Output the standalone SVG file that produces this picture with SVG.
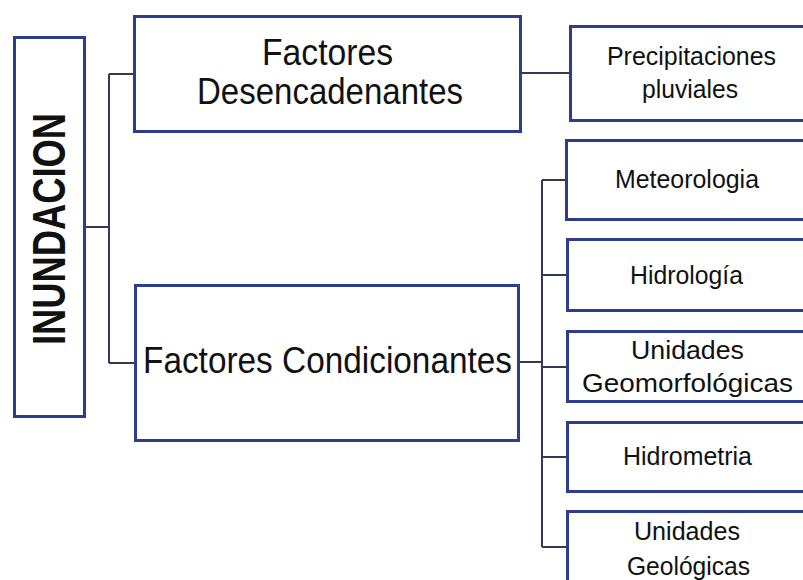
<svg xmlns="http://www.w3.org/2000/svg" width="803" height="580" viewBox="0 0 803 580">
<style>
.box{fill:#ffffff;stroke:#2c3d8c;stroke-width:3}
.con{fill:none;stroke:#34395a;stroke-width:2}
.t{font-family:"Liberation Sans",Arial,sans-serif;fill:#111111;text-anchor:middle}
.big{font-size:37px}
.sm{font-size:25px}
.bold{font-size:46px;font-weight:bold}
</style>
<rect x="0" y="0" width="803" height="580" fill="#ffffff"/>
<g id="connectors">
<path class="con" d="M86,227 H109 M109,74 V363 M109,74 H134 M109,363 H135"/>
<path class="con" d="M522,73 H570"/>
<path class="con" d="M520,362 H542 M542,180 V547 M542,180 H566 M542,275 H567 M542,367 H567 M542,457 H567 M542,547 H567"/>
</g>
<g id="inundacion">
<rect class="box" x="14.5" y="37.5" width="70" height="379"/>
<text class="t bold" transform="translate(65,229) rotate(-90)" textLength="232" lengthAdjust="spacingAndGlyphs">INUNDACION</text>
</g>
<g id="desencadenantes">
<rect class="box" x="134.5" y="16.5" width="386" height="115"/>
<text class="t big" x="327.5" y="65" textLength="131" lengthAdjust="spacingAndGlyphs">Factores</text>
<text class="t big" x="330" y="104" textLength="266" lengthAdjust="spacingAndGlyphs">Desencadenantes</text>
</g>
<g id="condicionantes">
<rect class="box" x="135.5" y="285.5" width="383" height="155"/>
<text class="t big" x="327.5" y="373" textLength="369" lengthAdjust="spacingAndGlyphs">Factores Condicionantes</text>
</g>
<g id="precipitaciones">
<rect class="box" x="570.5" y="26.5" width="240" height="94"/>
<text class="t sm" x="691.5" y="65" textLength="169" lengthAdjust="spacingAndGlyphs">Precipitaciones</text>
<text class="t sm" x="690" y="98" textLength="96" lengthAdjust="spacingAndGlyphs">pluviales</text>
</g>
<g id="meteorologia">
<rect class="box" x="566.5" y="140.5" width="244" height="79"/>
<text class="t sm" x="687" y="188" textLength="144" lengthAdjust="spacingAndGlyphs">Meteorologia</text>
</g>
<g id="hidrologia">
<rect class="box" x="567.5" y="239.5" width="243" height="71"/>
<text class="t sm" x="686.5" y="284" textLength="113" lengthAdjust="spacingAndGlyphs">Hidrología</text>
</g>
<g id="geomorfologicas">
<rect class="box" x="567.5" y="331.5" width="243" height="70"/>
<text class="t sm" x="687.5" y="359" textLength="113" lengthAdjust="spacingAndGlyphs">Unidades</text>
<text class="t sm" x="687.5" y="392" textLength="211" lengthAdjust="spacingAndGlyphs">Geomorfológicas</text>
</g>
<g id="hidrometria">
<rect class="box" x="567.5" y="422.5" width="243" height="69"/>
<text class="t sm" x="687.5" y="465" textLength="129" lengthAdjust="spacingAndGlyphs">Hidrometria</text>
</g>
<g id="geologicas">
<rect class="box" x="567.5" y="511.5" width="243" height="100"/>
<text class="t sm" x="687" y="540" textLength="106" lengthAdjust="spacingAndGlyphs">Unidades</text>
<text class="t sm" x="688.5" y="575" textLength="123" lengthAdjust="spacingAndGlyphs">Geológicas</text>
</g>
</svg>
